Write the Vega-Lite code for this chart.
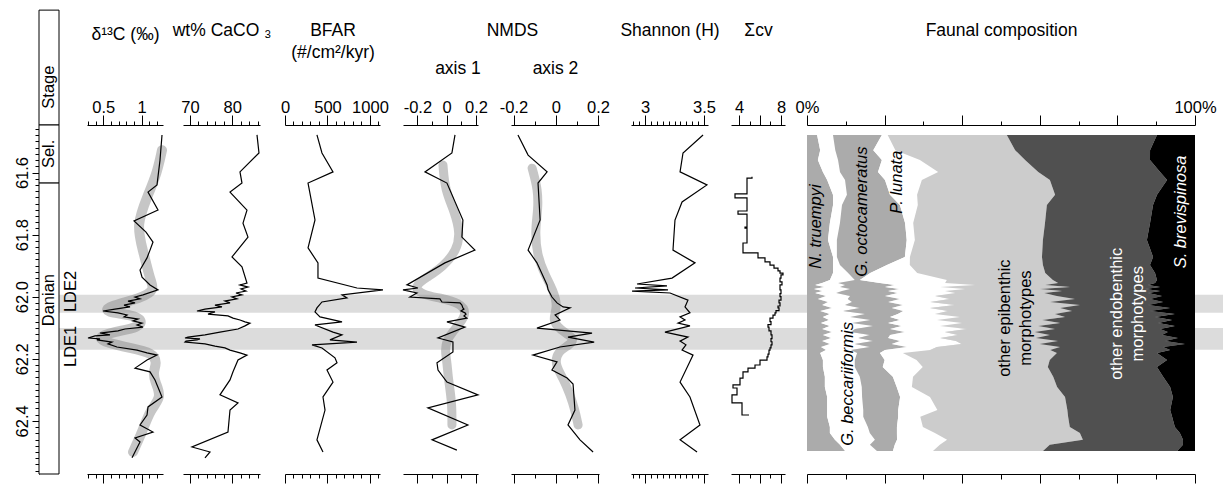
{
"$schema": "https://vega.github.io/schema/vega-lite/v6.json",
"width": 1184, "height": 349,
"autosize": {"type": "none"},
"padding": {"left": 39, "top": 125, "right": 0, "bottom": 11},
"background": "white",
"config": {
 "view": {"stroke": null},
 "font": "Liberation Sans",
 "text": {"font": "Liberation Sans", "fontSize": 16.5},
 "axis": {"grid": false, "domainColor": "black", "tickColor": "black", "labelColor": "black", "titleColor": "black", "labelFont": "Liberation Sans", "labelFontSize": 16.5, "titleFont": "Liberation Sans", "titleFontSize": 17.5, "titleFontWeight": "normal", "labelOverlap": false, "labelFlush": false, "labelBound": false, "domainWidth": 1, "tickWidth": 1, "labelPadding": 0, "titleBaseline": "alphabetic"}
},
"data": {"values": [{}]},
"datasets": {
 "bands": [{"a0": 61.994, "a1": 62.052}, {"a0": 62.101, "a1": 62.171}],
 "stage": [{"s": 61.077, "e": 61.447}, {"s": 61.447, "e": 61.634}, {"s": 61.634, "e": 62.571}],
 "stageT": [{"t": "Stage", "age": 61.325}, {"t": "Sel.", "age": 61.540}, {"t": "Danian", "age": 62.011}],
 "lde": [{"t": "LDE2", "age": 61.983}, {"t": "LDE1", "age": 62.160}],
 "d13c": [{"age":61.479,"v":1.264},{"age":61.560,"v":1.238},{"age":61.640,"v":1.199},{"age":61.663,"v":1.082},{"age":61.721,"v":1.212},{"age":61.756,"v":0.900},{"age":61.792,"v":1.056},{"age":61.824,"v":1.147},{"age":61.850,"v":1.108},{"age":61.875,"v":1.069},{"age":61.914,"v":0.978},{"age":61.937,"v":1.004},{"age":61.962,"v":1.108},{"age":61.978,"v":1.212},{"age":61.994,"v":1.017},{"age":62.001,"v":0.913},{"age":62.007,"v":0.978},{"age":62.014,"v":0.822},{"age":62.020,"v":0.913},{"age":62.027,"v":0.770},{"age":62.033,"v":0.848},{"age":62.040,"v":0.652},{"age":62.046,"v":0.496},{"age":62.052,"v":0.691},{"age":62.059,"v":0.809},{"age":62.065,"v":0.770},{"age":62.072,"v":0.952},{"age":62.078,"v":0.887},{"age":62.085,"v":1.004},{"age":62.091,"v":0.939},{"age":62.098,"v":1.017},{"age":62.104,"v":0.783},{"age":62.110,"v":0.691},{"age":62.114,"v":0.561},{"age":62.117,"v":0.457},{"age":62.123,"v":0.587},{"age":62.126,"v":0.392},{"age":62.133,"v":0.301},{"age":62.136,"v":0.457},{"age":62.139,"v":0.418},{"age":62.146,"v":0.613},{"age":62.152,"v":0.561},{"age":62.162,"v":0.678},{"age":62.172,"v":0.939},{"age":62.181,"v":1.069},{"age":62.188,"v":1.199},{"age":62.204,"v":1.069},{"age":62.230,"v":0.913},{"age":62.242,"v":1.108},{"age":62.268,"v":1.173},{"age":62.323,"v":1.264},{"age":62.355,"v":1.082},{"age":62.381,"v":1.069},{"age":62.413,"v":0.978},{"age":62.436,"v":1.147},{"age":62.455,"v":0.913},{"age":62.468,"v":0.978},{"age":62.519,"v":0.874}],
 "d13cS": [{"age":61.528,"v":1.264},{"age":61.602,"v":1.199},{"age":61.672,"v":1.082},{"age":61.769,"v":0.926},{"age":61.850,"v":1.017},{"age":61.946,"v":1.108},{"age":61.978,"v":1.173},{"age":62.004,"v":1.004},{"age":62.033,"v":0.548},{"age":62.049,"v":0.522},{"age":62.059,"v":0.887},{"age":62.075,"v":1.004},{"age":62.098,"v":0.978},{"age":62.114,"v":0.626},{"age":62.130,"v":0.418},{"age":62.149,"v":0.548},{"age":62.165,"v":0.848},{"age":62.181,"v":1.147},{"age":62.213,"v":1.199},{"age":62.242,"v":1.147},{"age":62.275,"v":1.173},{"age":62.323,"v":1.264},{"age":62.365,"v":1.108},{"age":62.429,"v":1.017},{"age":62.471,"v":0.939},{"age":62.500,"v":0.887}],
 "caco3": [{"age":61.479,"v":85.84},{"age":61.537,"v":86.31},{"age":61.598,"v":81.82},{"age":61.634,"v":82.29},{"age":61.663,"v":79.46},{"age":61.721,"v":83.47},{"age":61.763,"v":82.53},{"age":61.808,"v":83.71},{"age":61.872,"v":79.93},{"age":61.904,"v":82.29},{"age":61.956,"v":83.47},{"age":61.962,"v":81.82},{"age":61.969,"v":83.71},{"age":61.975,"v":82.06},{"age":61.982,"v":83.24},{"age":61.988,"v":80.87},{"age":61.994,"v":82.29},{"age":62.001,"v":79.93},{"age":62.007,"v":81.11},{"age":62.014,"v":78.27},{"age":62.020,"v":79.46},{"age":62.027,"v":75.91},{"age":62.033,"v":77.56},{"age":62.040,"v":73.55},{"age":62.046,"v":71.65},{"age":62.049,"v":75.91},{"age":62.056,"v":74.26},{"age":62.062,"v":78.98},{"age":62.069,"v":80.17},{"age":62.075,"v":81.82},{"age":62.081,"v":83.0},{"age":62.085,"v":84.18},{"age":62.094,"v":83.0},{"age":62.104,"v":81.35},{"age":62.114,"v":77.09},{"age":62.123,"v":73.55},{"age":62.130,"v":69.53},{"age":62.133,"v":68.82},{"age":62.136,"v":72.36},{"age":62.139,"v":71.65},{"age":62.143,"v":69.05},{"age":62.146,"v":68.82},{"age":62.152,"v":73.55},{"age":62.159,"v":75.91},{"age":62.165,"v":78.27},{"age":62.172,"v":79.46},{"age":62.181,"v":81.82},{"age":62.188,"v":83.47},{"age":62.204,"v":81.35},{"age":62.242,"v":80.17},{"age":62.268,"v":79.46},{"age":62.316,"v":77.09},{"age":62.342,"v":81.35},{"age":62.365,"v":79.46},{"age":62.436,"v":78.98},{"age":62.484,"v":70.47},{"age":62.500,"v":74.73},{"age":62.519,"v":73.55}],
 "bfar": [{"age":61.479,"v":376},{"age":61.537,"v":435},{"age":61.598,"v":565},{"age":61.634,"v":271},{"age":61.753,"v":353},{"age":61.843,"v":271},{"age":61.891,"v":388},{"age":61.940,"v":388},{"age":61.972,"v":847},{"age":61.978,"v":1153},{"age":61.994,"v":671},{"age":62.004,"v":729},{"age":62.017,"v":435},{"age":62.036,"v":376},{"age":62.049,"v":353},{"age":62.065,"v":412},{"age":62.081,"v":671},{"age":62.091,"v":353},{"age":62.114,"v":565},{"age":62.123,"v":671},{"age":62.139,"v":529},{"age":62.146,"v":847},{"age":62.155,"v":318},{"age":62.165,"v":435},{"age":62.197,"v":588},{"age":62.213,"v":612},{"age":62.236,"v":494},{"age":62.275,"v":565},{"age":62.323,"v":447},{"age":62.365,"v":471},{"age":62.461,"v":376},{"age":62.500,"v":447}],
 "nm1": [{"age":61.479,"v":0.057},{"age":61.537,"v":0.036},{"age":61.598,"v":-0.148},{"age":61.634,"v":0.002},{"age":61.753,"v":0.111},{"age":61.808,"v":0.104},{"age":61.850,"v":0.193},{"age":61.891,"v":-0.012},{"age":61.962,"v":-0.271},{"age":61.972,"v":-0.196},{"age":61.978,"v":-0.298},{"age":61.988,"v":-0.203},{"age":62.001,"v":-0.251},{"age":62.007,"v":-0.046},{"age":62.017,"v":-0.032},{"age":62.020,"v":0.091},{"age":62.027,"v":0.104},{"age":62.036,"v":0.111},{"age":62.040,"v":0.118},{"age":62.046,"v":0.098},{"age":62.052,"v":0.125},{"age":62.056,"v":0.132},{"age":62.062,"v":0.118},{"age":62.069,"v":0.138},{"age":62.081,"v":0.002},{"age":62.098,"v":0.125},{"age":62.133,"v":-0.059},{"age":62.146,"v":0.043},{"age":62.178,"v":0.043},{"age":62.213,"v":-0.066},{"age":62.236,"v":-0.059},{"age":62.275,"v":0.002},{"age":62.316,"v":0.214},{"age":62.358,"v":-0.128},{"age":62.413,"v":0.145},{"age":62.461,"v":-0.100},{"age":62.494,"v":0.070}],
 "nm1S": [{"age":61.576,"v":-0.025},{"age":61.656,"v":-0.012},{"age":61.730,"v":0.057},{"age":61.795,"v":0.091},{"age":61.850,"v":0.070},{"age":61.904,"v":-0.025},{"age":61.937,"v":-0.134},{"age":61.969,"v":-0.230},{"age":61.994,"v":-0.162},{"age":62.004,"v":-0.046},{"age":62.020,"v":0.091},{"age":62.052,"v":0.138},{"age":62.085,"v":0.091},{"age":62.117,"v":0.036},{"age":62.139,"v":0.002},{"age":62.172,"v":-0.012},{"age":62.210,"v":0.002},{"age":62.252,"v":0.009},{"age":62.300,"v":0.023},{"age":62.349,"v":0.036},{"age":62.413,"v":0.036}],
 "nm2": [{"age":61.479,"v":-0.179},{"age":61.544,"v":-0.131},{"age":61.598,"v":-0.041},{"age":61.634,"v":-0.084},{"age":61.753,"v":-0.074},{"age":61.850,"v":-0.131},{"age":61.891,"v":-0.089},{"age":61.962,"v":-0.041},{"age":61.978,"v":-0.036},{"age":62.001,"v":-0.018},{"age":62.020,"v":0.006},{"age":62.033,"v":0.035},{"age":62.036,"v":0.068},{"age":62.059,"v":-0.003},{"age":62.075,"v":0.020},{"age":62.101,"v":-0.089},{"age":62.117,"v":0.172},{"age":62.130,"v":0.058},{"age":62.146,"v":0.182},{"age":62.162,"v":0.020},{"age":62.188,"v":-0.108},{"age":62.210,"v":0.006},{"age":62.236,"v":-0.018},{"age":62.262,"v":0.054},{"age":62.281,"v":0.082},{"age":62.365,"v":0.091},{"age":62.413,"v":0.058},{"age":62.461,"v":0.115},{"age":62.500,"v":0.177}],
 "nm2S": [{"age":61.586,"v":-0.112},{"age":61.656,"v":-0.084},{"age":61.721,"v":-0.084},{"age":61.785,"v":-0.098},{"age":61.866,"v":-0.089},{"age":61.930,"v":-0.051},{"age":61.978,"v":-0.013},{"age":62.033,"v":0.011},{"age":62.075,"v":-0.018},{"age":62.107,"v":0.020},{"age":62.133,"v":0.091},{"age":62.155,"v":0.068},{"age":62.178,"v":0.006},{"age":62.220,"v":-0.003},{"age":62.262,"v":0.035},{"age":62.316,"v":0.068},{"age":62.365,"v":0.091},{"age":62.413,"v":0.106}],
 "shan": [{"age":61.479,"v":3.492},{"age":61.537,"v":3.322},{"age":61.598,"v":3.297},{"age":61.640,"v":3.525},{"age":61.695,"v":3.314},{"age":61.753,"v":3.254},{"age":61.850,"v":3.237},{"age":61.891,"v":3.424},{"age":61.940,"v":3.229},{"age":61.959,"v":2.932},{"age":61.965,"v":3.186},{"age":61.972,"v":2.915},{"age":61.978,"v":3.195},{"age":61.982,"v":2.890},{"age":61.988,"v":3.212},{"age":62.011,"v":3.364},{"age":62.033,"v":3.339},{"age":62.052,"v":3.381},{"age":62.065,"v":3.297},{"age":62.075,"v":3.339},{"age":62.085,"v":3.280},{"age":62.094,"v":3.381},{"age":62.114,"v":3.169},{"age":62.130,"v":3.364},{"age":62.143,"v":3.297},{"age":62.155,"v":3.347},{"age":62.172,"v":3.314},{"age":62.188,"v":3.407},{"age":62.275,"v":3.297},{"age":62.323,"v":3.381},{"age":62.413,"v":3.466},{"age":62.461,"v":3.297},{"age":62.500,"v":3.441}],
 "scv": [{"age":61.614,"v":5.238},{"age":61.618,"v":4.762},{"age":61.666,"v":4.762},{"age":61.669,"v":3.619},{"age":61.679,"v":3.619},{"age":61.682,"v":4.762},{"age":61.721,"v":4.762},{"age":61.724,"v":3.905},{"age":61.730,"v":3.905},{"age":61.734,"v":4.762},{"age":61.772,"v":4.762},{"age":61.776,"v":4.571},{"age":61.779,"v":4.762},{"age":61.824,"v":4.762},{"age":61.827,"v":4.381},{"age":61.859,"v":5.810},{"age":61.875,"v":6.476},{"age":61.888,"v":6.952},{"age":61.898,"v":7.333},{"age":61.908,"v":7.714},{"age":61.917,"v":7.905},{"age":61.924,"v":8.190},{"age":61.930,"v":8.0},{"age":61.940,"v":7.905},{"age":61.952,"v":8.095},{"age":61.962,"v":7.905},{"age":61.978,"v":8.0},{"age":61.990,"v":7.905},{"age":62.000,"v":8.0},{"age":62.011,"v":7.810},{"age":62.020,"v":7.905},{"age":62.030,"v":7.714},{"age":62.036,"v":7.810},{"age":62.045,"v":7.524},{"age":62.052,"v":7.429},{"age":62.059,"v":7.238},{"age":62.069,"v":6.952},{"age":62.080,"v":7.048},{"age":62.090,"v":6.762},{"age":62.098,"v":6.857},{"age":62.110,"v":7.048},{"age":62.123,"v":7.143},{"age":62.135,"v":7.048},{"age":62.145,"v":7.143},{"age":62.155,"v":7.048},{"age":62.165,"v":6.952},{"age":62.172,"v":6.857},{"age":62.185,"v":6.762},{"age":62.194,"v":6.667},{"age":62.204,"v":6.0},{"age":62.220,"v":5.524},{"age":62.230,"v":4.857},{"age":62.242,"v":4.381},{"age":62.262,"v":4.095},{"age":62.284,"v":3.429},{"age":62.294,"v":3.810},{"age":62.316,"v":3.333},{"age":62.342,"v":4.286},{"age":62.381,"v":4.952}],
 "fauna": [
  {"age":61.479,"a":2.6,"b":4.1,"c":12.6,"d":1.5,"e":30.7,"f":38.7,"g":9.8},
  {"age":61.528,"a":3.4,"b":3.9,"c":9.8,"d":5.7,"e":30.9,"f":34.8,"g":11.6},
  {"age":61.560,"a":2.8,"b":5.2,"c":11.3,"d":9.8,"e":27.1,"f":32.2,"g":11.6},
  {"age":61.598,"a":4.1,"b":4.4,"c":9.8,"d":15.5,"e":25.8,"f":31.4,"g":9.0},
  {"age":61.624,"a":5.2,"b":4.6,"c":10.3,"d":9.5,"e":33.0,"f":30.2,"g":7.2},
  {"age":61.672,"a":6.7,"b":3.6,"c":11.1,"d":7.0,"e":35.6,"f":26.3,"g":9.8},
  {"age":61.705,"a":6.7,"b":2.3,"c":14.9,"d":4.6,"e":33.2,"f":27.3,"g":10.8},
  {"age":61.763,"a":5.9,"b":2.6,"c":16.8,"d":2.1,"e":34.0,"f":27.1,"g":11.6},
  {"age":61.817,"a":5.4,"b":2.3,"c":18.0,"d":2.1,"e":33.0,"f":26.8,"g":12.4},
  {"age":61.872,"a":6.7,"b":1.0,"c":17.5,"d":1.3,"e":34.0,"f":28.6,"g":10.8},
  {"age":61.898,"a":6.7,"b":1.8,"c":12.1,"d":5.9,"e":34.3,"f":27.6,"g":11.6},
  {"age":61.924,"a":6.7,"b":3.9,"c":5.7,"d":12.1,"e":33.0,"f":28.3,"g":10.3},
  {"age":61.946,"a":5.9,"b":6.4,"c":1.3,"d":22.4,"e":27.3,"f":26.8,"g":9.8},
  {"age":61.956,"a":3.9,"b":4.1,"c":10.8,"d":16.8,"e":29.1,"f":25.0,"g":10.3},
  {"age":61.962,"a":2.1,"b":7.7,"c":12.9,"d":20.6,"e":18.0,"f":26.5,"g":12.1},
  {"age":61.969,"a":4.6,"b":3.9,"c":11.6,"d":14.2,"e":33.5,"f":23.2,"g":9.0},
  {"age":61.975,"a":1.8,"b":9.3,"c":12.9,"d":16.8,"e":19.3,"f":27.1,"g":12.9},
  {"age":61.982,"a":4.1,"b":4.9,"c":11.9,"d":14.7,"e":30.2,"f":25.3,"g":9.0},
  {"age":61.988,"a":2.1,"b":5.4,"c":16.0,"d":14.7,"e":22.9,"f":26.8,"g":12.1},
  {"age":61.998,"a":4.9,"b":6.2,"c":9.0,"d":12.9,"e":31.4,"f":27.1,"g":8.5},
  {"age":62.007,"a":2.8,"b":7.7,"c":13.4,"d":12.9,"e":32.2,"f":19.3,"g":11.6},
  {"age":62.017,"a":5.4,"b":6.2,"c":9.3,"d":10.8,"e":30.9,"f":29.1,"g":8.2},
  {"age":62.027,"a":3.9,"b":5.9,"c":14.9,"d":13.4,"e":32.2,"f":17.5,"g":12.1},
  {"age":62.036,"a":6.4,"b":7.2,"c":8.2,"d":9.8,"e":33.5,"f":28.3,"g":6.4},
  {"age":62.046,"a":3.4,"b":5.9,"c":15.5,"d":11.6,"e":32.0,"f":20.1,"g":11.6},
  {"age":62.056,"a":5.9,"b":9.0,"c":8.5,"d":9.5,"e":30.9,"f":30.9,"g":5.2},
  {"age":62.065,"a":4.1,"b":7.0,"c":10.3,"d":18.0,"e":27.1,"f":23.2,"g":10.3},
  {"age":62.075,"a":5.7,"b":10.6,"c":7.7,"d":9.5,"e":27.1,"f":33.5,"g":5.9},
  {"age":62.085,"a":3.6,"b":8.0,"c":9.3,"d":19.1,"e":25.3,"f":25.3,"g":9.5},
  {"age":62.094,"a":5.9,"b":11.1,"c":7.5,"d":9.8,"e":25.3,"f":35.3,"g":5.2},
  {"age":62.104,"a":3.9,"b":8.5,"c":9.0,"d":19.8,"e":22.7,"f":27.1,"g":9.0},
  {"age":62.114,"a":6.4,"b":4.9,"c":13.9,"d":10.3,"e":23.2,"f":34.3,"g":7.0},
  {"age":62.123,"a":4.1,"b":12.1,"c":5.2,"d":17.5,"e":23.7,"f":28.9,"g":8.5},
  {"age":62.133,"a":6.2,"b":7.0,"c":7.7,"d":13.4,"e":24.7,"f":36.6,"g":4.4},
  {"age":62.143,"a":3.9,"b":13.1,"c":7.0,"d":14.4,"e":26.3,"f":27.6,"g":7.7},
  {"age":62.152,"a":5.9,"b":6.4,"c":9.5,"d":18.0,"e":20.1,"f":37.4,"g":2.6},
  {"age":62.162,"a":3.6,"b":12.6,"c":9.5,"d":7.7,"e":31.7,"f":26.5,"g":8.2},
  {"age":62.172,"a":4.9,"b":6.4,"c":8.8,"d":11.6,"e":30.9,"f":30.9,"g":6.4},
  {"age":62.181,"a":3.4,"b":9.5,"c":5.9,"d":5.9,"e":39.7,"f":25.8,"g":9.8},
  {"age":62.204,"a":4.1,"b":8.2,"c":7.7,"d":8.2,"e":34.3,"f":30.2,"g":7.2},
  {"age":62.226,"a":4.1,"b":8.2,"c":7.2,"d":10.3,"e":32.2,"f":28.1,"g":9.8},
  {"age":62.258,"a":4.6,"b":9.0,"c":8.5,"d":5.2,"e":36.1,"f":28.3,"g":8.2},
  {"age":62.291,"a":4.6,"b":9.5,"c":9.0,"d":3.9,"e":37.4,"f":29.1,"g":6.4},
  {"age":62.323,"a":5.2,"b":9.0,"c":9.8,"d":7.7,"e":34.8,"f":27.8,"g":5.7},
  {"age":62.365,"a":5.2,"b":9.3,"c":9.0,"d":10.1,"e":33.5,"f":26.5,"g":6.4},
  {"age":62.387,"a":5.2,"b":9.3,"c":9.0,"d":5.7,"e":38.1,"f":26.8,"g":5.9},
  {"age":62.420,"a":5.9,"b":9.8,"c":7.5,"d":6.7,"e":37.9,"f":27.1,"g":5.2},
  {"age":62.439,"a":5.9,"b":10.3,"c":7.0,"d":9.8,"e":37.4,"f":25.8,"g":3.9},
  {"age":62.461,"a":7.2,"b":10.3,"c":5.7,"d":12.9,"e":35.0,"f":25.8,"g":3.1},
  {"age":62.477,"a":8.5,"b":7.7,"c":6.4,"d":11.6,"e":28.3,"f":34.3,"g":3.1},
  {"age":62.497,"a":9.8,"b":8.2,"c":4.1,"d":10.3,"e":28.3,"f":34.5,"g":4.6}
 ],
 "faunaTi": [{"t":"N. truempyi","p":2.3,"age":61.774},{"t":"G. octocameratus","p":14.3,"age":61.726},{"t":"P. lunata","p":23.3,"age":61.631},{"t":"G. beccariiformis","p":10.6,"age":62.281},{"t":"S. brevispinosa","p":96.4,"age":61.727}],
 "faunaTn": [{"t":"other epibenthic\nmorphotypes","p":51.0,"age":62.069},{"t":"other endobenthic\nmorphotypes","p":79.8,"age":62.055}]
},
"resolve": {"scale": {"x": "independent", "y": "independent"}, "axis": {"x": "independent", "y": "independent"}},
"layer": [
 {"data": {"name": "bands"}, "mark": {"type": "rect", "color": "#DCDCDC"},
  "encoding": {"x": {"datum": 0, "type": "quantitative", "scale": {"domain": [0, 1], "range": [0, 1184]}, "axis": null}, "x2": {"datum": 1},
   "y": {"field": "a0", "type": "quantitative", "scale": {"domain": [61.447, 62.571], "reverse": true, "nice": false, "zero": false}, "axis": null}, "y2": {"field": "a1"}}},
 {"data": {"name": "stage"}, "mark": {"type": "rect", "fill": "white", "stroke": "black", "strokeWidth": 1},
  "encoding": {"x": {"datum": 0, "type": "quantitative", "scale": {"domain": [0, 1], "range": [0, 20]}, "axis": null}, "x2": {"datum": 1},
   "y": {"field": "s", "type": "quantitative", "scale": {"domain": [61.447, 62.571], "reverse": true, "nice": false, "zero": false}, "axis": null},
   "y2": {"field": "e"}}},
 {"mark": {"type": "rule", "opacity": 0},
  "encoding": {"y": {"datum": 62, "type": "quantitative", "scale": {"domain": [61.447, 62.571], "reverse": true, "nice": false, "zero": false},
    "axis": {"orient": "left", "offset": 0, "values": [61.46,61.48,61.5,61.52,61.54,61.56,61.58,61.6,61.62,61.64,61.66,61.68,61.7,61.72,61.74,61.76,61.78,61.8,61.82,61.84,61.86,61.88,61.9,61.92,61.94,61.96,61.98,62,62.02,62.04,62.06,62.08,62.1,62.12,62.14,62.16,62.18,62.2,62.22,62.24,62.26,62.28,62.3,62.32,62.34,62.36,62.38,62.4,62.42,62.44,62.46,62.48,62.5,62.52,62.54,62.56],
     "tickSize": {"condition": {"test": "datum.value == 61.6 || datum.value == 61.8 || datum.value == 62 || datum.value == 62.2 || datum.value == 62.4", "value": 7}, "value": 4},
     "labelExpr": "datum.value == 61.6 || datum.value == 61.8 || datum.value == 62 || datum.value == 62.2 || datum.value == 62.4 ? format(datum.value, '.1f') : ''",
     "labelAngle": 270, "labelAlign": "center", "labelBaseline": "bottom", "labelPadding": 1.5, "title": null}}}},
 {"data": {"name": "stageT"}, "mark": {"type": "text", "angle": 270, "align": "center", "baseline": "middle", "fontSize": 16.5, "color": "black"},
  "encoding": {"x": {"datum": 0.5, "type": "quantitative", "scale": {"domain": [0, 1], "range": [0, 20]}, "axis": null},
   "y": {"field": "age", "type": "quantitative", "scale": {"domain": [61.447, 62.571], "reverse": true, "nice": false, "zero": false}, "axis": null},
   "text": {"field": "t"}}},
 {"data": {"name": "lde"}, "mark": {"type": "text", "angle": 270, "align": "center", "baseline": "middle", "fontSize": 16.5, "color": "black"},
  "encoding": {"x": {"datum": 1, "type": "quantitative", "scale": {"domain": [0, 1], "range": [0, 32]}, "axis": null},
   "y": {"field": "age", "type": "quantitative", "scale": {"domain": [61.447, 62.571], "reverse": true, "nice": false, "zero": false}, "axis": null},
   "text": {"field": "t"}}},
 {"encoding": {
   "x": {"field": "v", "type": "quantitative", "scale": {"domain": [0.288, 1.277], "range": [48, 124], "nice": false, "zero": false},
    "axis": {"orient": "top", "offset": 0, "values": [0.3,0.4,0.5,0.6,0.7,0.8,0.9,1,1.1,1.2], "tickSize": {"condition": {"test": "datum.value == 0.5 || datum.value == 1", "value": 10}, "value": 4}, "labelExpr": "datum.value == 0.5 ? '0.5' : (datum.value == 1 ? '1' : '')", "title": "δ¹³C (‰)", "titleY": -86}},
   "y": {"field": "age", "type": "quantitative", "scale": {"domain": [61.447, 62.571], "reverse": true, "nice": false, "zero": false}, "axis": null},
   "order": {"field": "age"}},
  "layer": [
   {"data": {"name": "d13cS"}, "mark": {"type": "line", "color": "#808080", "opacity": 0.45, "strokeWidth": 10, "strokeCap": "round", "strokeJoin": "round", "interpolate": "basis"}},
   {"data": {"name": "d13c"}, "mark": {"type": "line", "color": "black", "strokeWidth": 1.2}}
  ]},
 {"mark": {"type": "rule", "opacity": 0},
  "encoding": {"x": {"datum": 1, "type": "quantitative", "scale": {"domain": [0.288, 1.277], "range": [48, 124], "nice": false, "zero": false},
   "axis": {"orient": "bottom", "offset": 0, "values": [0.3,0.4,0.5,0.6,0.7,0.8,0.9,1,1.1,1.2], "tickSize": {"condition": {"test": "datum.value == 0.5 || datum.value == 1", "value": 9}, "value": 4}, "labels": false, "title": null}}}},
 {"data": {"name": "caco3"}, "mark": {"type": "line", "color": "black", "strokeWidth": 1.2},
  "encoding": {
   "x": {"field": "v", "type": "quantitative", "scale": {"domain": [68.35, 86.55], "range": [144, 221], "nice": false, "zero": false},
    "axis": {"orient": "top", "offset": 0, "values": [70,72,74,76,78,80,82,84,86], "tickSize": {"condition": {"test": "datum.value == 70 || datum.value == 80", "value": 10}, "value": 4}, "labelExpr": "datum.value == 70 ? '70' : (datum.value == 80 ? '80' : '')", "title": "wt% CaCO ₃", "titleY": -90}},
   "y": {"field": "age", "type": "quantitative", "scale": {"domain": [61.447, 62.571], "reverse": true, "nice": false, "zero": false}, "axis": null},
   "order": {"field": "age"}}},
 {"mark": {"type": "rule", "opacity": 0},
  "encoding": {"x": {"datum": 80, "type": "quantitative", "scale": {"domain": [68.35, 86.55], "range": [144, 221], "nice": false, "zero": false},
   "axis": {"orient": "bottom", "offset": 0, "values": [70,72,74,76,78,80,82,84,86], "tickSize": {"condition": {"test": "datum.value == 70 || datum.value == 80", "value": 9}, "value": 4}, "labels": false, "title": null}}}},
 {"data": {"name": "bfar"}, "mark": {"type": "line", "color": "black", "strokeWidth": 1.2},
  "encoding": {
   "x": {"field": "v", "type": "quantitative", "scale": {"domain": [0, 1118], "range": [246, 341], "nice": false, "zero": false},
    "axis": {"orient": "top", "offset": 0, "values": [0,100,200,300,400,500,600,700,800,900,1000,1100], "tickSize": {"condition": {"test": "datum.value == 0 || datum.value == 500 || datum.value == 1000", "value": 10}, "value": 4}, "labelExpr": "datum.value == 0 || datum.value == 500 || datum.value == 1000 ? '' + datum.value : ''", "title": ["BFAR", "(#/cm²/kyr)"], "titleLineHeight": 22, "titleY": -90}},
   "y": {"field": "age", "type": "quantitative", "scale": {"domain": [61.447, 62.571], "reverse": true, "nice": false, "zero": false}, "axis": null},
   "order": {"field": "age"}}},
 {"mark": {"type": "rule", "opacity": 0},
  "encoding": {"x": {"datum": 500, "type": "quantitative", "scale": {"domain": [0, 1118], "range": [246, 341], "nice": false, "zero": false},
   "axis": {"orient": "bottom", "offset": 0, "values": [0,100,200,300,400,500,600,700,800,900,1000,1100], "tickSize": {"condition": {"test": "datum.value == 0 || datum.value == 500 || datum.value == 1000", "value": 9}, "value": 4}, "labels": false, "title": null}}}},
 {"encoding": {
   "x": {"field": "v", "type": "quantitative", "scale": {"domain": [-0.298, 0.214], "range": [364, 439], "nice": false, "zero": false},
    "axis": {"orient": "top", "offset": 0, "values": [-0.2,-0.1,0,0.1,0.2], "tickSize": {"condition": {"test": "datum.value == -0.2 || datum.value == 0 || datum.value == 0.2", "value": 10}, "value": 4}, "labelExpr": "datum.value == -0.2 ? '-0.2' : (datum.value == 0 ? '0' : (datum.value == 0.2 ? '0.2' : ''))", "title": "axis 1", "titleY": -52, "titleX": 418.5}},
   "y": {"field": "age", "type": "quantitative", "scale": {"domain": [61.447, 62.571], "reverse": true, "nice": false, "zero": false}, "axis": null},
   "order": {"field": "age"}},
  "layer": [
   {"data": {"name": "nm1S"}, "mark": {"type": "line", "color": "#808080", "opacity": 0.45, "strokeWidth": 9, "strokeCap": "round", "strokeJoin": "round", "interpolate": "basis"}},
   {"data": {"name": "nm1"}, "mark": {"type": "line", "color": "black", "strokeWidth": 1.2}}
  ]},
 {"mark": {"type": "rule", "opacity": 0},
  "encoding": {"x": {"datum": 0, "type": "quantitative", "scale": {"domain": [-0.298, 0.214], "range": [364, 439], "nice": false, "zero": false},
   "axis": {"orient": "bottom", "offset": 0, "values": [-0.2,-0.1,0,0.1,0.2], "tickSize": {"condition": {"test": "datum.value == -0.2 || datum.value == 0 || datum.value == 0.2", "value": 9}, "value": 4}, "labels": false, "title": null}}}},
 {"encoding": {
   "x": {"field": "v", "type": "quantitative", "scale": {"domain": [-0.212, 0.205], "range": [472, 560], "nice": false, "zero": false},
    "axis": {"orient": "top", "offset": 0, "values": [-0.2,-0.1,0,0.1,0.2], "tickSize": {"condition": {"test": "datum.value == -0.2 || datum.value == 0 || datum.value == 0.2", "value": 10}, "value": 4}, "labelExpr": "datum.value == -0.2 ? '-0.2' : (datum.value == 0 ? '0' : (datum.value == 0.2 ? '0.2' : ''))", "title": "axis 2", "titleY": -52}},
   "y": {"field": "age", "type": "quantitative", "scale": {"domain": [61.447, 62.571], "reverse": true, "nice": false, "zero": false}, "axis": null},
   "order": {"field": "age"}},
  "layer": [
   {"data": {"name": "nm2S"}, "mark": {"type": "line", "color": "#808080", "opacity": 0.45, "strokeWidth": 9, "strokeCap": "round", "strokeJoin": "round", "interpolate": "basis"}},
   {"data": {"name": "nm2"}, "mark": {"type": "line", "color": "black", "strokeWidth": 1.2}}
  ]},
 {"mark": {"type": "rule", "opacity": 0},
  "encoding": {"x": {"datum": 0, "type": "quantitative", "scale": {"domain": [-0.212, 0.205], "range": [472, 560], "nice": false, "zero": false},
   "axis": {"orient": "bottom", "offset": 0, "values": [-0.2,-0.1,0,0.1,0.2], "tickSize": {"condition": {"test": "datum.value == -0.2 || datum.value == 0 || datum.value == 0.2", "value": 9}, "value": 4}, "labels": false, "title": null}}}},
 {"mark": {"type": "rule", "opacity": 0},
  "encoding": {"x": {"datum": 0.5, "type": "quantitative", "scale": {"domain": [0, 1], "range": [420, 526]},
   "axis": {"orient": "top", "offset": 0, "domain": false, "ticks": false, "labels": false, "title": "NMDS", "titleY": -90}}}},
 {"data": {"name": "shan"}, "mark": {"type": "line", "color": "black", "strokeWidth": 1.2},
  "encoding": {
   "x": {"field": "v", "type": "quantitative", "scale": {"domain": [2.881, 3.534], "range": [592, 669], "nice": false, "zero": false},
    "axis": {"orient": "top", "offset": 0, "values": [2.9,2.95,3,3.05,3.1,3.15,3.2,3.25,3.3,3.35,3.4,3.45,3.5], "tickSize": {"condition": {"test": "datum.value == 3 || datum.value == 3.5", "value": 10}, "value": 4}, "labelExpr": "datum.value == 3 ? '3' : (datum.value == 3.5 ? '3.5' : '')", "title": "Shannon (H)", "titleY": -90}},
   "y": {"field": "age", "type": "quantitative", "scale": {"domain": [61.447, 62.571], "reverse": true, "nice": false, "zero": false}, "axis": null},
   "order": {"field": "age"}}},
 {"mark": {"type": "rule", "opacity": 0},
  "encoding": {"x": {"datum": 3, "type": "quantitative", "scale": {"domain": [2.881, 3.534], "range": [592, 669], "nice": false, "zero": false},
   "axis": {"orient": "bottom", "offset": 0, "values": [2.9,2.95,3,3.05,3.1,3.15,3.2,3.25,3.3,3.35,3.4,3.45,3.5], "tickSize": {"condition": {"test": "datum.value == 3 || datum.value == 3.5", "value": 9}, "value": 4}, "labels": false, "title": null}}}},
 {"data": {"name": "scv"}, "mark": {"type": "line", "color": "black", "strokeWidth": 1.2, "interpolate": "step-before"},
  "encoding": {
   "x": {"field": "v", "type": "quantitative", "scale": {"domain": [3.238, 8.381], "range": [692, 746], "nice": false, "zero": false},
    "axis": {"orient": "top", "offset": 0, "values": [4,5,6,7,8], "tickSize": {"condition": {"test": "datum.value == 4 || datum.value == 6 || datum.value == 8", "value": 10}, "value": 4}, "labelExpr": "datum.value == 4 ? '4' : (datum.value == 8 ? '8' : '')", "title": "Σᴄᴠ", "titleY": -90}},
   "y": {"field": "age", "type": "quantitative", "scale": {"domain": [61.447, 62.571], "reverse": true, "nice": false, "zero": false}, "axis": null},
   "order": {"field": "age"}}},
 {"mark": {"type": "rule", "opacity": 0},
  "encoding": {"x": {"datum": 6, "type": "quantitative", "scale": {"domain": [3.238, 8.381], "range": [692, 746], "nice": false, "zero": false},
   "axis": {"orient": "bottom", "offset": 0, "values": [4,5,6,7,8], "tickSize": {"condition": {"test": "datum.value == 4 || datum.value == 6 || datum.value == 8", "value": 9}, "value": 4}, "labels": false, "title": null}}}},
 {"data": {"name": "fauna"},
  "transform": [{"fold": ["a", "b", "c", "d", "e", "f", "g"], "as": ["grp", "pct"]}],
  "mark": {"type": "area", "orient": "horizontal"},
  "encoding": {
   "x": {"field": "pct", "type": "quantitative", "stack": "normalize", "scale": {"domain": [0, 1], "range": [768, 1156], "nice": false, "zero": false},
    "axis": {"orient": "top", "offset": 0, "values": [0,0.1,0.2,0.3,0.4,0.5,0.6,0.7,0.8,0.9,1], "tickSize": {"condition": {"test": "indexof([0,0.2,0.4,0.6,0.8,1], datum.value) >= 0", "value": 10}, "value": 4}, "labelExpr": "datum.value == 0 ? '0%' : (datum.value == 1 ? '100%' : '')", "title": "Faunal composition", "titleY": -90}},
   "y": {"field": "age", "type": "quantitative", "scale": {"domain": [61.447, 62.571], "reverse": true, "nice": false, "zero": false}, "axis": null},
   "color": {"field": "grp", "type": "nominal", "scale": {"domain": ["a", "b", "c", "d", "e", "f", "g"], "range": ["#ABABAB", "#FFFFFF", "#ABABAB", "#FFFFFF", "#CCCCCC", "#505050", "#000000"]}, "legend": null},
   "order": {"field": "grp", "sort": "ascending"}}},
 {"mark": {"type": "rule", "opacity": 0},
  "encoding": {"x": {"datum": 0.5, "type": "quantitative", "scale": {"domain": [0, 1], "range": [768, 1156], "nice": false, "zero": false},
   "axis": {"orient": "bottom", "offset": 0, "values": [0,0.1,0.2,0.3,0.4,0.5,0.6,0.7,0.8,0.9,1], "tickSize": {"condition": {"test": "indexof([0,0.2,0.4,0.6,0.8,1], datum.value) >= 0", "value": 9}, "value": 5}, "labels": false, "title": null}}}},
 {"data": {"name": "faunaTi"}, "mark": {"type": "text", "angle": 270, "align": "center", "baseline": "middle", "fontSize": 16.5, "fontStyle": "italic"},
  "encoding": {"x": {"field": "p", "type": "quantitative", "scale": {"domain": [0, 100], "range": [768, 1156]}, "axis": null},
   "y": {"field": "age", "type": "quantitative", "scale": {"domain": [61.447, 62.571], "reverse": true, "nice": false, "zero": false}, "axis": null},
   "text": {"field": "t"},
   "color": {"condition": {"test": "datum.t == 'S. brevispinosa'", "value": "white"}, "value": "black"}}},
 {"data": {"name": "faunaTn"}, "mark": {"type": "text", "angle": 270, "align": "center", "baseline": "middle", "fontSize": 16.5, "lineBreak": "\n", "lineHeight": 21},
  "encoding": {"x": {"field": "p", "type": "quantitative", "scale": {"domain": [0, 100], "range": [768, 1156]}, "axis": null},
   "y": {"field": "age", "type": "quantitative", "scale": {"domain": [61.447, 62.571], "reverse": true, "nice": false, "zero": false}, "axis": null},
   "text": {"field": "t"},
   "color": {"condition": {"test": "indexof(datum.t, 'endobenthic') >= 0", "value": "white"}, "value": "black"}}}
]
}
